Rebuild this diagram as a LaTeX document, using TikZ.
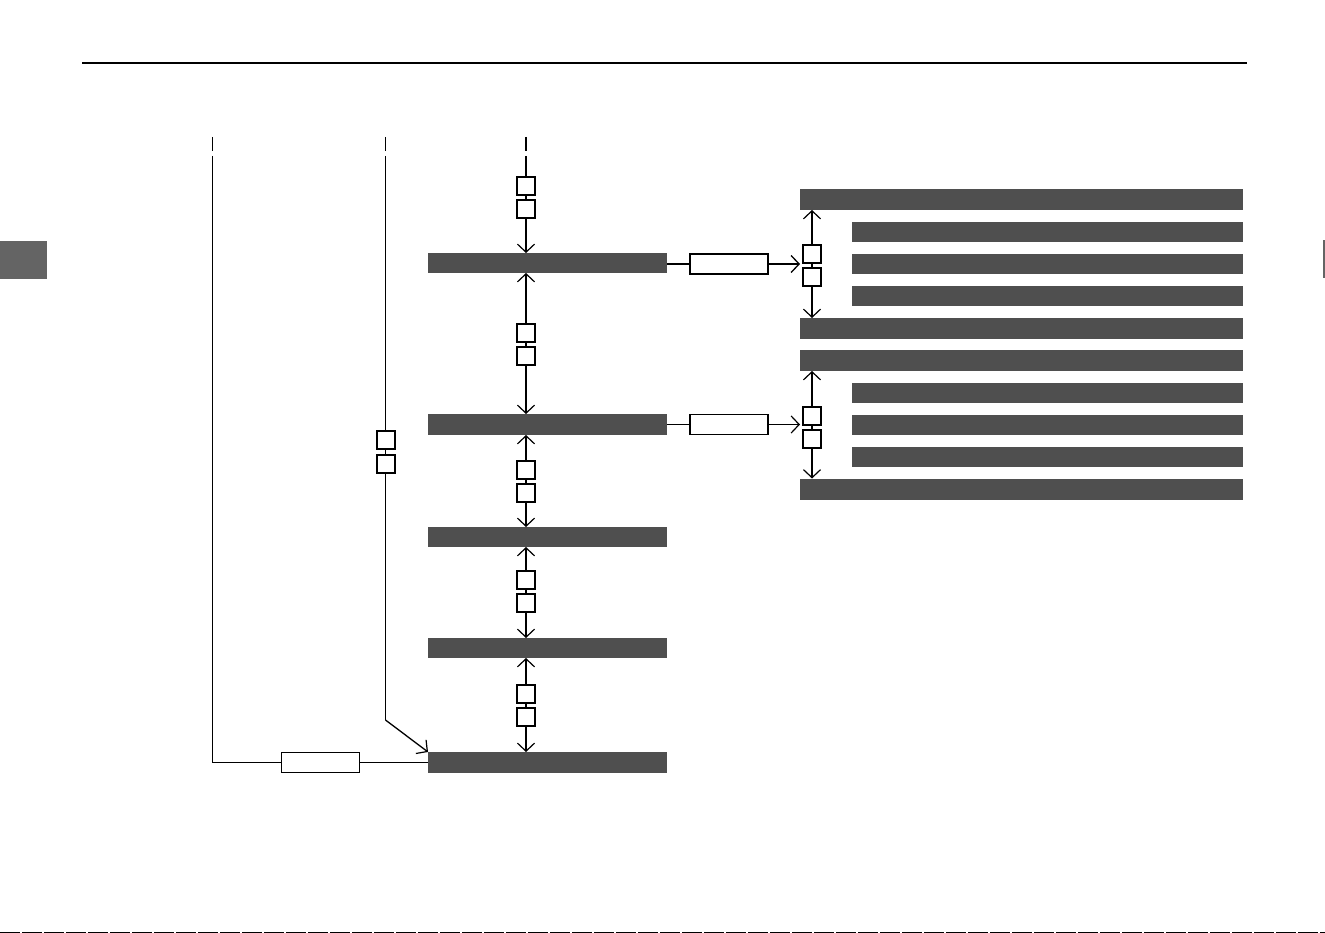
\documentclass[tikz,border=0pt]{standalone}
\usetikzlibrary{arrows.meta}
\definecolor{barc}{HTML}{4F4F4F}
\definecolor{tabc}{HTML}{646464}
\tikzset{
  x=1pt,y=-1pt,
  bar/.style={fill=barc,draw=none,inner sep=0pt,outer sep=0pt},
  sq/.style={draw=black,fill=white,line width=1.2pt,minimum width=18pt,minimum height=18pt,inner sep=0pt},
  wbox/.style={draw=black,fill=white,line width=1.2pt,minimum width=78pt,minimum height=20pt,inner sep=0pt},
  ln/.style={line width=1.3pt,black},
  arr/.style={ln,-{Straight Barb[length=8pt,width=17pt,line width=1.2pt]}},
  darr/.style={ln,{Straight Barb[length=8pt,width=17pt,line width=1.2pt]}-{Straight Barb[length=8pt,width=17pt,line width=1.2pt]}},
}
\begin{document}
\begin{tikzpicture}
\useasboundingbox (0,0) rectangle (1325,933);
% page decoration
\draw[line width=1.3pt] (82,63) -- (1247,63);
\fill[tabc] (0,241) rectangle (47,279);
\fill[tabc] (1323,240) rectangle (1325,278);
\draw[line width=1pt,dash pattern=on 20pt off 2pt] (0,932.5) -- (1325,932.5);
% column ticks
\draw[line width=1.4pt] (212.5,137) -- (212.5,151);
\draw[line width=1.4pt] (385.5,137) -- (385.5,151);
\draw[line width=2.2pt] (526,137) -- (526,151);
% main bars
\node[bar,minimum width=239pt,minimum height=20pt] (m1) at (547.5,263) {};
\node[bar,minimum width=239pt,minimum height=21pt] (m2) at (547.5,424.5) {};
\node[bar,minimum width=239pt,minimum height=20pt] (m3) at (547.5,537) {};
\node[bar,minimum width=239pt,minimum height=20pt] (m4) at (547.5,648) {};
\node[bar,minimum width=239pt,minimum height=21pt] (m5) at (547.5,762.5) {};
% right group 1
\node[bar,minimum width=443pt,minimum height=21pt] (r1t) at (1021.5,199.5) {};
\node[bar,minimum width=391pt,minimum height=20pt] (r1a) at (1047.5,232) {};
\node[bar,minimum width=391pt,minimum height=20pt] (r1b) at (1047.5,264) {};
\node[bar,minimum width=391pt,minimum height=20pt] (r1c) at (1047.5,296) {};
\node[bar,minimum width=443pt,minimum height=21pt] (r1e) at (1021.5,328.5) {};
% right group 2
\node[bar,minimum width=443pt,minimum height=21pt] (r2t) at (1021.5,360.5) {};
\node[bar,minimum width=391pt,minimum height=20pt] (r2a) at (1047.5,393) {};
\node[bar,minimum width=391pt,minimum height=20pt] (r2b) at (1047.5,425) {};
\node[bar,minimum width=391pt,minimum height=20pt] (r2c) at (1047.5,457) {};
\node[bar,minimum width=443pt,minimum height=21pt] (r2e) at (1021.5,489) {};
% coordinates
\coordinate (lt) at (212.5,156);
\coordinate (lc) at (212.5,762.5);
\coordinate (mt) at (385.5,156);
\coordinate (mc) at (385.5,720);
\coordinate (rt) at (526,156);
% left column
\node[wbox] (lb) at (320.5,762.5) {};
\draw[ln] (lt) -- (lc) -- (lb.west);
\draw[ln] (lb.east) -- (m5.west);
% middle column
\draw[ln] (mt) -- (mc);
\node[sq] (ms1) at (386,440) {};
\node[sq] (ms2) at (386,464) {};
\draw[arr] (mc) -- (m5.north west);
% right column top
\draw[arr] (rt) -- (m1.north -| rt);
\node[sq] (rs1) at (526,186) {};
\node[sq] (rs2) at (526,209) {};
% vertical links between main bars
\foreach \a/\b/\ya/\yb in {m1/m2/333/356, m2/m3/470/493, m3/m4/580/603, m4/m5/694/717}{
  \draw[darr] (\a.south -| rt) -- (\b.north -| rt);
  \node[sq] at (526,\ya) {};
  \node[sq] at (526,\yb) {};
}
% side links
\node[wbox] (w1) at (729,264) {};
\node[wbox] (w2) at (729,424.5) {};
\coordinate (g1) at (812,264);
\coordinate (g2) at (812,424.5);
\draw[ln] (m1.east |- w1) -- (w1.west);
\draw[line width=2.2pt,-{Straight Barb[length=8pt,width=17pt,line width=1.3pt]}] (w1.east) -- (800,264);
\draw[ln] (m2.east) -- (w2.west);
\draw[arr] (w2.east) -- (800,424.5);
\draw[darr] (r1t.south -| g1) -- (r1e.north -| g1);
\node[sq] at (812,254) {};
\node[sq] at (812,277) {};
\draw[darr] (r2t.south -| g2) -- (r2e.north -| g2);
\node[sq] at (812,416) {};
\node[sq] at (812,439) {};
\end{tikzpicture}
\end{document}
